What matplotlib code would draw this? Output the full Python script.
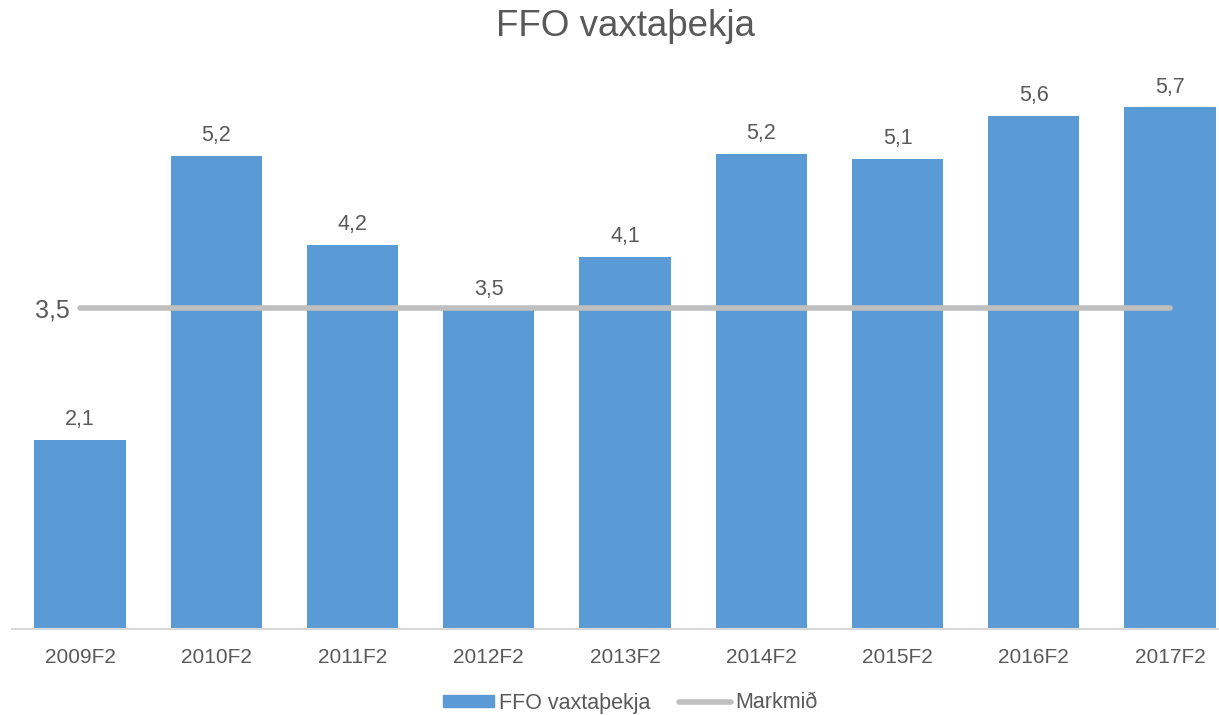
import matplotlib
matplotlib.use("Agg")
import matplotlib.pyplot as plt
from matplotlib.patches import Patch
from matplotlib.lines import Line2D

categories = ["2009F2", "2010F2", "2011F2", "2012F2", "2013F2",
              "2014F2", "2015F2", "2016F2", "2017F2"]
coverage = [2.06, 5.16, 4.19, 3.48, 4.06, 5.18, 5.13, 5.60, 5.69]
target = [3.5] * len(categories)

bar_color = "#5B9BD5"
line_color = "#BFBFBF"
text_color = "#595959"

plt.rcParams['font.family'] = ['Liberation Sans', 'DejaVu Sans']

W, H = 1219, 715
fig = plt.figure(figsize=(W / 100, H / 100), dpi=100)
left, right = 12, 1219
bottom, top = 629, 79
ax = fig.add_axes([left / W, 1 - bottom / H, (right - left) / W, (bottom - top) / H])

x = list(range(len(categories)))
ax.bar(x, coverage, width=0.67, color=bar_color, zorder=2)
ax.plot(x, target, color=line_color, linewidth=4, solid_capstyle='round', zorder=3)

for xi, v in zip(x, coverage):
    ax.annotate(f"{v:.1f}".replace(".", ","), (xi, v), xytext=(0, 7),
                textcoords="offset points", ha="center", va="bottom",
                fontsize=15.5, color=text_color)

ax.annotate(f"{target[0]:.1f}".replace(".", ","), (x[0], target[0]),
            xytext=(-7.5, -1.5), textcoords="offset points", ha="right", va="center",
            fontsize=18, color=text_color)

ax.set_xlim(-0.5, 8.36)
ax.set_ylim(0, 6.0)
ax.set_yticks([])
ax.set_xticks(x)
ax.set_xticklabels(categories, fontsize=15, color=text_color)
ax.tick_params(axis='x', length=0, pad=13.5)
for s in ["top", "right", "left"]:
    ax.spines[s].set_visible(False)
ax.spines["bottom"].set_color("#D9D9D9")
ax.spines["bottom"].set_linewidth(1.5)

fig.suptitle("FFO vaxtaþekja", x=625 / W, y=1 - 27 / H, va="center", fontsize=26.5, color=text_color)

handles = [Patch(color=bar_color), Line2D([0], [0], color=line_color, linewidth=4, solid_capstyle='round')]
fig.legend(handles, ["FFO vaxtaþekja", "Markmið"], loc="center", bbox_to_anchor=(630 / W, 1 - 703 / H),
           ncol=2, frameon=False, fontsize=15.5, labelcolor=text_color,
           handlelength=2.4, handletextpad=0.2, columnspacing=1.35, handleheight=0.45)

fig.savefig("out.png", dpi=100, facecolor="white")
